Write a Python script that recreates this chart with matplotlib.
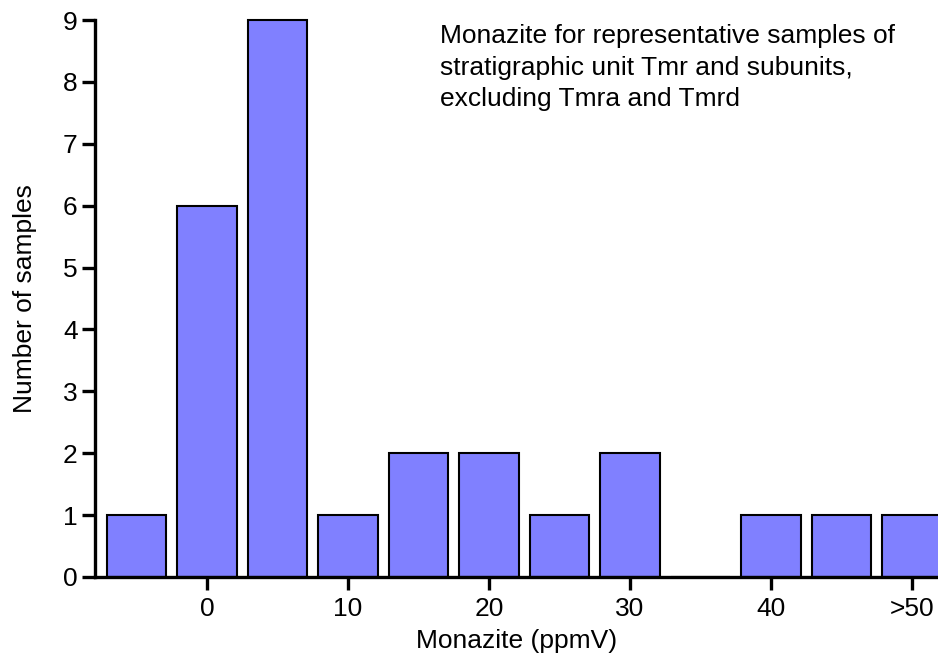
import numpy as np
import matplotlib
matplotlib.use('Agg')
import matplotlib.pyplot as plt

plt.rcParams['font.family'] = ['Liberation Sans', 'DejaVu Sans']

# bin centres (ppmV) and counts
bin_centers = [-5, 0, 5, 10, 15, 20, 25, 30, 35, 40, 45, 50]
counts = [1, 6, 9, 1, 2, 2, 1, 2, 0, 1, 1, 1]
xtick_pos = [0, 10, 20, 30, 40, 50]
xtick_labels = ['0', '10', '20', '30', '40', '>50']
ytick_pos = list(range(0, 10))

fig = plt.figure(figsize=(9.38, 6.55), dpi=100)
ax = fig.add_axes([95/938, 78/655, 843/938, 557/655])

bars = ax.bar(bin_centers, counts, width=4.2, color='#8080ff',
              edgecolor='black', linewidth=1.5, zorder=2)
for b in bars:
    b.set_clip_on(False)

ax.set_xlim(-7.94, 51.85)
ax.set_ylim(0, 9)
ax.set_xticks(xtick_pos)
ax.set_xticklabels(xtick_labels)
ax.set_yticks(ytick_pos)

for s in ['top', 'right']:
    ax.spines[s].set_visible(False)
for s in ['left', 'bottom']:
    ax.spines[s].set_linewidth(2.4)
    ax.spines[s].set_zorder(3)

ax.tick_params(axis='both', length=9.5, width=2.4, labelsize=19, direction='out')
ax.tick_params(axis='y', pad=3)
ax.tick_params(axis='x', pad=5)

ax.set_xlabel('Monazite (ppmV)', fontsize=19, labelpad=6)
ax.set_ylabel('Number of samples', fontsize=19, labelpad=19)

ax.text(0.409, 0.992, 'Monazite for representative samples of\n'
        'stratigraphic unit Tmr and subunits,\n'
        'excluding Tmra and Tmrd',
        transform=ax.transAxes, ha='left', va='top', fontsize=19,
        linespacing=1.38)

fig.savefig('out.png', dpi=100)
